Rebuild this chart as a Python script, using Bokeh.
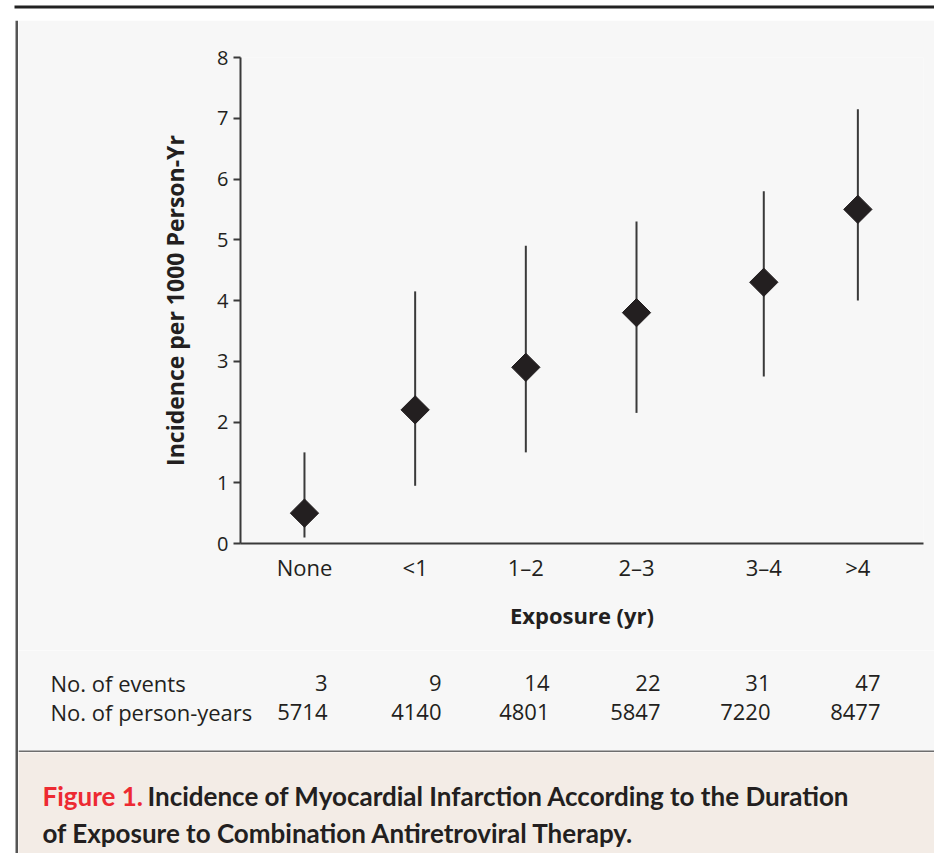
import math
from bokeh.plotting import figure
from bokeh.layouts import column, row
from bokeh.models import FixedTicker, ColumnDataSource, Range1d
from bokeh.core.properties import value
from bokeh.embed import file_html
from bokeh.resources import INLINE

# ---------------- data ----------------
categories = ["None", "<1", "1–2", "2–3", "3–4", ">4"]
incidence = [0.5, 2.2, 2.9, 3.8, 4.3, 5.5]
ci_low = [0.1, 0.95, 1.5, 2.15, 2.75, 4.0]
ci_high = [1.5, 4.15, 4.9, 5.3, 5.8, 7.15]
n_events = [3, 9, 14, 22, 31, 47]
person_years = [5714, 4140, 4801, 5847, 7220, 8477]
y_ticks = [0, 1, 2, 3, 4, 5, 6, 7, 8]
row_titles = ["No. of events", "No. of person-years"]
caption_lead = "Figure 1."
caption_line1 = "Incidence of Myocardial Infarction According to the Duration"
caption_line2 = "of Exposure to Combination Antiretroviral Therapy."

# ---------------- layout / style ----------------
x_slots = [0, 1, 2, 3, 4.15, 5.0]             # horizontal slot of each category
table_right = [327, 441, 549, 660, 770, 880]   # right edge of table columns (px)
PANEL = "#f7f7f7"
CAPBG = "#f3ece6"
INK = "#231f20"
AX = "#3a3a3a"
RED = "#ed2a32"
FONT = "Open Sans"
CAPFONT = "Lato"


def no_align(f):
    if "frame_align" in f.properties():
        f.frame_align = False
    return f


def blank(w, h, xr, yr, bg):
    f = figure(width=w, height=h, x_range=Range1d(*xr), y_range=Range1d(*yr),
               output_backend="svg", toolbar_location=None,
               x_axis_location=None, y_axis_location=None,
               min_border=0, background_fill_color=bg, border_fill_color=bg,
               outline_line_color=None)
    f.xgrid.visible = False
    f.ygrid.visible = False
    return no_align(f)


# ---- top rule (y 0..20) ----
top = blank(934, 20, (0, 934), (20, 0), "white")
top.quad(left=[14], right=[934], top=[5], bottom=[8], fill_color="#222222", line_color=None)

# ---- left edge (x 0..18, y 20..853) ----
edge = blank(18, 833, (0, 18), (853, 20), "white")
edge.quad(left=[15], right=[17.5], top=[20], bottom=[853], fill_color="#555555", line_color=None)
edge.quad(left=[17.5], right=[18], top=[20], bottom=[752], fill_color=PANEL, line_color=None)
edge.quad(left=[17.5], right=[18], top=[752], bottom=[853], fill_color=CAPBG, line_color=None)

# ---- main chart (x 18..934, y 20..650) ----
src = ColumnDataSource(dict(x=x_slots, y=incidence, lo=ci_low, hi=ci_high))
p = figure(width=916, height=630, x_range=(-0.578, 5.593), y_range=(0, 8),
           output_backend="svg", toolbar_location=None,
           min_border_left=222, min_border_right=11, min_border_top=37, min_border_bottom=107,
           background_fill_color=PANEL, border_fill_color=PANEL, outline_line_color=None)
no_align(p)
p.xgrid.visible = False
p.ygrid.visible = False

p.segment(x0="x", y0="lo", x1="x", y1="hi", source=src, line_width=2, line_color=AX)
p.scatter(x="x", y="y", source=src, marker="square", size=20, angle=math.pi / 4,
          fill_color=INK, line_color=INK)

ya = p.yaxis[0]
ya.ticker = FixedTicker(ticks=y_ticks)
ya.axis_line_width = 2
ya.axis_line_color = AX
ya.major_tick_line_color = AX
ya.major_tick_line_width = 2
ya.major_tick_out = 7
ya.major_tick_in = 0
ya.minor_tick_out = 0
ya.minor_tick_in = 0
ya.major_label_standoff = 5
ya.major_label_text_font = FONT
ya.major_label_text_font_size = "20px"
ya.major_label_text_color = INK
ya.axis_label = "Incidence per 1000 Person-Yr"
ya.axis_label_text_font = FONT
ya.axis_label_text_font_style = "bold"
ya.axis_label_text_font_size = "23px"
ya.axis_label_text_color = INK
ya.axis_label_standoff = 23

xa = p.xaxis[0]
xa.ticker = FixedTicker(ticks=x_slots)
xa.major_label_overrides = {float(x): c for x, c in zip(x_slots, categories)}
xa.axis_line_width = 2
xa.axis_line_color = AX
xa.major_tick_out = 0
xa.major_tick_in = 0
xa.minor_tick_out = 0
xa.minor_tick_in = 0
xa.major_label_standoff = 8
xa.major_label_text_font = FONT
xa.major_label_text_font_size = "22px"
xa.major_label_text_color = INK
xa.axis_label = "Exposure (yr)"
xa.axis_label_text_font = FONT
xa.axis_label_text_font_style = "bold"
xa.axis_label_text_font_size = "22px"
xa.axis_label_text_color = INK
xa.axis_label_standoff = 15

# ---- table (y 650..752) ----
tbl = blank(916, 102, (18, 934), (752, 650), PANEL)
tbl.quad(left=[18], right=[934], top=[750], bottom=[752], fill_color="#6e6e6e", line_color=None)
tbl.text(x=[50, 50], y=[682, 711], text=row_titles, text_font=value(FONT),
         text_font_size=value("22px"), text_align="left", text_baseline="alphabetic",
         text_color=INK)
tbl.text(x=table_right, y=[682] * len(n_events), text=[str(v) for v in n_events],
         text_font=value(FONT), text_font_size=value("22px"), text_align="right",
         text_baseline="alphabetic", text_color=INK)
tbl.text(x=table_right, y=[711] * len(person_years), text=[str(v) for v in person_years],
         text_font=value(FONT), text_font_size=value("22px"), text_align="right",
         text_baseline="alphabetic", text_color=INK)

# ---- caption (y 752..853) ----
cap = blank(916, 101, (18, 934), (853, 752), CAPBG)
cap.text(x=[42], y=[795], text=[caption_lead], text_font=value(CAPFONT),
         text_font_size=value("26px"), text_font_style="bold", text_align="left",
         text_baseline="alphabetic", text_color=RED)
cap.text(x=[147, 42], y=[795, 832], text=[caption_line1, caption_line2],
         text_font=value(CAPFONT), text_font_size=value("26px"), text_font_style="bold",
         text_align="left", text_baseline="alphabetic", text_color=INK)

layout = column(top, row(edge, column(p, tbl, cap)))
open("out.html", "w").write(file_html(layout, INLINE))
